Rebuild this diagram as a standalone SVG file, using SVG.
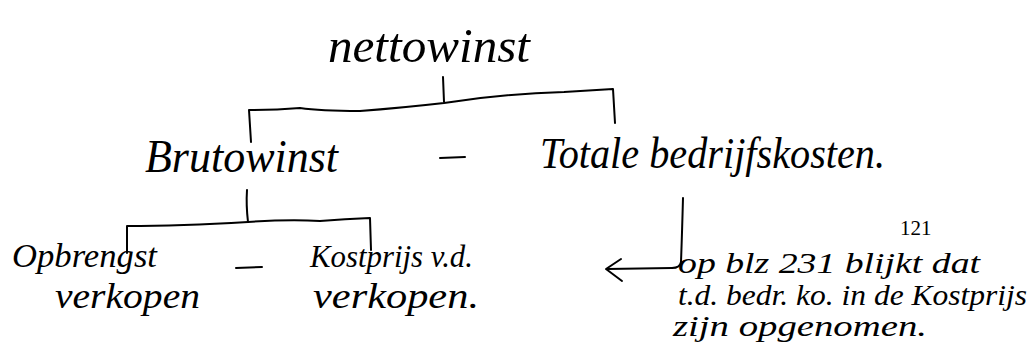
<svg xmlns="http://www.w3.org/2000/svg" width="1035" height="349" viewBox="0 0 1035 349">
<defs>
<style>
.h{font-family:"Liberation Serif","DejaVu Serif",serif;font-style:italic;fill:#000}
.p{font-family:"Liberation Serif","Times New Roman",serif;fill:#000}
.c{fill:none;stroke:#000;stroke-width:2;stroke-linecap:round;stroke-linejoin:round}
</style>
</defs>
<rect width="1035" height="349" fill="#fff"/>
<g id="connectors" class="c">
<path d="M443 77 L444 102"/>
<path d="M251 142 L249 110 Q275 110 300 108 Q320 111 360 111 Q400 108 444 103 Q500 94 564 92 L613 89 L615 123"/>
<path d="M247 190 Q246 205 248 222"/>
<path d="M127 253 L127 226 Q180 226 248 222 Q290 219 320 221 Q345 219 370 218 L371 250"/>
<path d="M683 198 Q682 235 681 262 Q680 268 672 268 L607 269"/>
<path d="M621 259 L606 269 L622 281"/>
<path d="M440 158 L465 157"/>
<path d="M236 268 L262 267"/>
</g>
<g id="node-nettowinst"><text class="h" x="328" y="62" font-size="48" textLength="202" lengthAdjust="spacingAndGlyphs">nettowinst</text></g>
<g id="node-brutowinst"><text class="h" x="145" y="172" font-size="46" textLength="193" lengthAdjust="spacingAndGlyphs">Brutowinst</text></g>
<g id="node-totale"><text class="h" x="540" y="168" font-size="44" textLength="345" lengthAdjust="spacingAndGlyphs">Totale bedrijfskosten.</text></g>
<g id="node-opbrengst"><text class="h" x="12" y="267" font-size="34" textLength="145" lengthAdjust="spacingAndGlyphs">Opbrengst</text><text class="h" x="55" y="308" font-size="36" textLength="145" lengthAdjust="spacingAndGlyphs">verkopen</text></g>
<g id="node-kostprijs"><text class="h" x="310" y="267" font-size="31" textLength="163" lengthAdjust="spacingAndGlyphs">Kostprijs v.d.</text><text class="h" x="313" y="308" font-size="36" textLength="166" lengthAdjust="spacingAndGlyphs">verkopen.</text></g>
<g id="node-note"><text class="p" x="900" y="235" font-size="21">121</text><text class="h" font-size="29"><tspan x="678" y="273" textLength="302" lengthAdjust="spacingAndGlyphs">op blz 231 blijkt dat</tspan><tspan x="678" y="305" textLength="349" lengthAdjust="spacingAndGlyphs">t.d. bedr. ko. in de Kostprijs</tspan><tspan x="673" y="336" textLength="254" lengthAdjust="spacingAndGlyphs">zijn opgenomen.</tspan></text></g>
</svg>
